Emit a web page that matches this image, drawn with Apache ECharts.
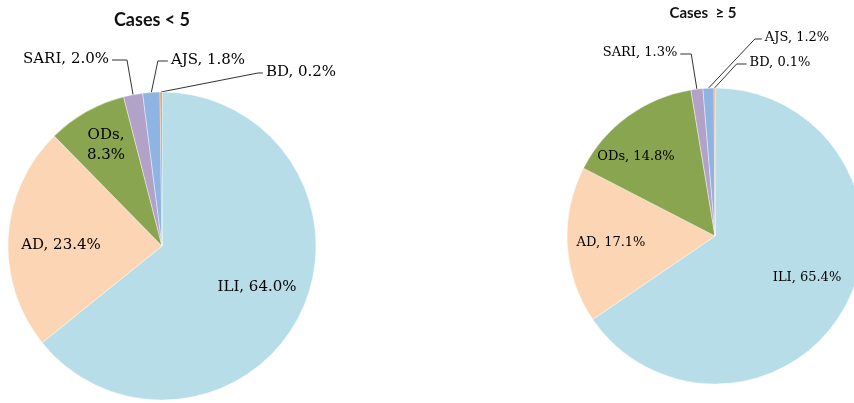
<!DOCTYPE html>
<html>
<head>
<meta charset="utf-8">
<script src="https://cdn.jsdelivr.net/npm/echarts@6/dist/echarts.min.js"></script>
<style>
html,body{margin:0;padding:0;background:#fff;}
#chart{width:854px;height:403px;}
</style>
</head>
<body>
<div id="chart"></div>
<script>
// ---- data ----
const categories = ['ILI', 'AD', 'ODs', 'SARI', 'AJS', 'BD'];
const valuesUnder5 = [64.0, 23.4, 8.3, 2.0, 1.8, 0.2];
const valuesOver5 = [65.4, 17.1, 14.8, 1.3, 1.2, 0.1];
const titles = ['Cases < 5', 'Cases  \u2265 5'];

// ---- styles / layout ----
const colors = ['#B7DEE8', '#FCD5B5', '#89A550', '#B3A2C7', '#8EB4E3', '#E9914A'];
const pies = [
  { center: [162, 246], radius: 154, font: 15, titleX: 147, titleY: 6, titleSize: 18 },
  { center: [715, 236], radius: 148, font: 13, titleX: 698, titleY: 1, titleSize: 15 }
];
// label centre positions and leader-line attachment
const labelPlacement = [
  [
    { x: 257, y: 287 },
    { x: 61, y: 245 },
    { x: 106, y: 145, wrap: true },
    { x: 66, y: 59, side: 'right', seg: 15 },
    { x: 208, y: 60, side: 'left', seg: 10 },
    { x: 301, y: 72, side: 'left', seg: 5 }
  ],
  [
    { x: 807, y: 278 },
    { x: 611, y: 243 },
    { x: 636, y: 157 },
    { x: 640, y: 53, side: 'right', seg: 11 },
    { x: 797, y: 38, side: 'left', seg: 7 },
    { x: 780, y: 63, side: 'left', seg: 10 }
  ]
];

function buildData(values, si) {
  return categories.map((name, i) => {
    const p = labelPlacement[si][i];
    return {
      name: name,
      value: values[i],
      itemStyle: { color: colors[i] },
      labelLine: { show: !!p.side }
    };
  });
}

function makeSeries(values, si) {
  const cfg = pies[si];
  return {
    type: 'pie',
    center: cfg.center,
    radius: cfg.radius,
    startAngle: 90,
    clockwise: true,
    avoidLabelOverlap: false,
    animation: false,
    silent: true,
    itemStyle: { borderColor: '#ffffff', borderWidth: 0.4 },
    label: {
      show: true,
      position: 'outside',
      fontFamily: 'DejaVu Serif',
      fontSize: cfg.font,
      lineHeight: Math.round(cfg.font * 1.35),
      color: '#000',
      formatter: function (p) {
        const pl = labelPlacement[si][p.dataIndex];
        return p.name + ',' + (pl.wrap ? '\n' : ' ') + p.value.toFixed(1) + '%';
      }
    },
    labelLine: {
      show: true,
      smooth: false,
      lineStyle: { color: '#333', width: 1 }
    },
    labelLayout: function (params) {
      const pl = labelPlacement[si][params.dataIndex];
      const out = { x: pl.x, y: pl.y, align: 'center', verticalAlign: 'middle' };
      if (pl.side && params.labelLinePoints) {
        const w = params.labelRect.width;
        const anchor = params.labelLinePoints[0];
        const endX = pl.side === 'right' ? pl.x + w / 2 + 3 : pl.x - w / 2 - 3;
        const midX = pl.side === 'right' ? endX + pl.seg : endX - pl.seg;
        const ly = pl.y + 1;
        out.labelLinePoints = [[anchor[0], anchor[1]], [midX, ly], [endX, ly]];
      }
      return out;
    },
    emphasis: { disabled: true },
    data: buildData(values, si)
  };
}

const chart = echarts.init(document.getElementById('chart'), null, { renderer: 'canvas' });
chart.setOption({
  backgroundColor: '#ffffff',
  animation: false,
  title: pies.map((cfg, i) => ({
    text: titles[i],
    left: cfg.titleX,
    top: cfg.titleY,
    textAlign: 'center',
    textStyle: { fontFamily: 'Lato', fontWeight: 'bold', fontSize: cfg.titleSize, color: '#111' }
  })),
  series: [makeSeries(valuesUnder5, 0), makeSeries(valuesOver5, 1)]
});
</script>
</body>
</html>
